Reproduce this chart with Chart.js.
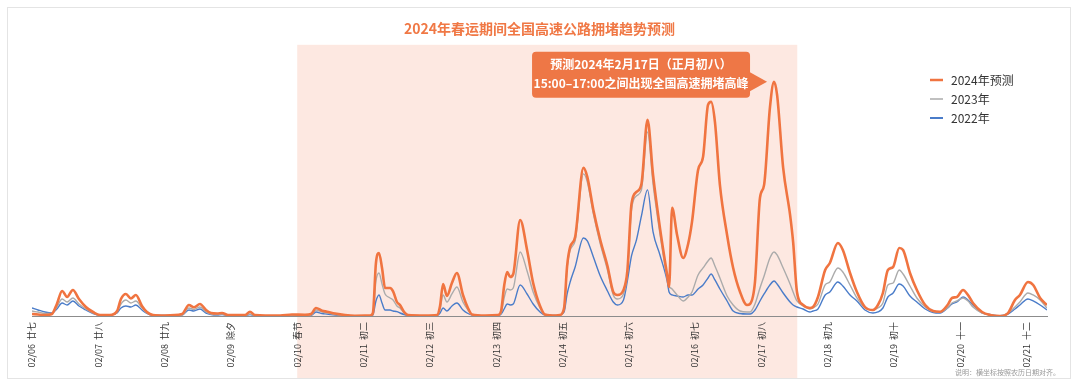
<!DOCTYPE html>
<html>
<head>
<meta charset="utf-8">
<script src="https://cdn.jsdelivr.net/npm/chart.js@4.4.1/dist/chart.umd.min.js"></script>
<style>
  html, body { margin: 0; padding: 0; background: #fff; }
  #wrap { width: 1080px; height: 388px; }
</style>
</head>
<body>
<div id="wrap"><canvas id="trend" width="1080" height="388"></canvas></div>
<script>
// x axis: hours counted from 02/06 00:00, one tick per day
const dayLabels = ["02/06", "02/07", "02/08", "02/09", "02/10", "02/11", "02/12", "02/13",
                   "02/14", "02/15", "02/16", "02/17", "02/18", "02/19", "02/20", "02/21"];
const lunarLabels = ["廿七", "廿八", "廿九", "除夕", "春节", "初二", "初三", "初四",
                     "初五", "初六", "初七", "初八", "初九", "初十", "十一", "十二"];
const festivalRange = [96, 277];   // shaded holiday period (hours)

const hours = [0, 2.2, 4.7, 7.2, 9, 10.9, 12.7, 14.8, 17, 19.5, 22.1, 24.6, 28.2, 30.8, 32.2, 34, 35.8, 37.6,
  39.8, 41.6, 43.8, 48.1, 54.3, 56.8, 58.6, 60.8, 63, 64.8, 67, 68.8, 71, 77.1, 78.9, 80.7, 89.8, 94.1,
  98.8, 101, 102.8, 105, 106.8, 109.7, 113.3, 116.9, 122.4, 123.4, 124.5, 125.6, 126.7, 127.8, 129.6,
  130.7, 132.1, 133.2, 134.7, 136.1, 142.3, 146.6, 147.7, 148.8, 150.2, 152, 153.8, 156, 157.8, 159.3,
  164, 168.7, 169.8, 170.9, 172, 173.1, 174.2, 176.7, 179.2, 181.4, 183.9, 185.7, 189.7, 191.1, 192.6,
  193.7, 194.8, 196.6, 199.6, 201, 203.2, 205.7, 208.3, 210.4, 211.9, 214.1, 215.5, 217, 218.8, 220.6,
  222.8, 224.8, 227.3, 229.9, 230.6, 231.7, 233.5, 235.7, 237.5, 238.9, 241.1, 242.9, 244.7, 245.8,
  247.2, 249, 251.6, 253.8, 256.3, 258.8, 259.9, 261.7, 263.5, 265, 267.1, 268.6, 269.7, 271.9, 274.4,
  275.5, 276.9, 279.1, 281.6, 282.7, 284.5, 287.1, 288.8, 291.7, 293.5, 296.1, 298.6, 301.5, 304.4,
  306.2, 308, 309.8, 311.7, 313.9, 315.3, 317.8, 320.3, 323.3, 326.2, 328.7, 331.4, 333, 334.8, 337,
  338.8, 340.6, 343.9, 346.8, 350.4, 353.3, 355.8, 357.6, 360.5, 362.4, 364.9, 367.4];

const y2024 = [2, 1.5, 1, 2, 12, 25, 19, 26, 17, 9, 4, 1, 1, 5, 17, 22, 17.5, 21,
  10, 4, 1, 0.5, 2, 11, 8.7, 12, 6, 3, 2.5, 3, 1, 1, 4.3, 1, 0.5, 1.5,
  1.2, 2, 8, 5.3, 4.3, 2.5, 1, 0.3, 0.5, 3, 53, 63, 48, 28, 28,
  24.7, 14, 11, 4, 1, 0.5, 1, 10, 32, 20, 33, 43, 21, 8, 1.5,
  0.5, 1, 5, 30, 44, 39, 42, 96, 66, 33, 10, 1.5, 0.5, 1, 8,
  50, 69, 79, 148, 139, 106, 76, 50, 24, 21, 26, 45, 112, 124, 132,
  196, 141, 88, 41, 29, 108, 81, 58, 72, 94, 146, 159, 211, 214,
  194, 131, 81, 48, 24, 11, 12, 34, 118, 131, 208, 234, 221, 148, 101,
  74, 24, 11, 8, 9, 19, 46, 53, 73, 66, 43, 24, 9, 6,
  11, 23, 46, 49, 68, 66, 43, 26, 11, 5, 4.3, 11, 18, 19, 26,
  21, 13, 4, 1, 0, 3, 16, 21, 34, 31, 18, 11];

const y2023 = [5, 4, 2.5, 2.5, 9, 17, 14, 18, 12, 7, 3, 1, 1, 4, 12, 16, 13, 15,
  8, 3, 1, 0.5, 1, 8, 6.5, 9, 4, 2, 1.5, 2, 0.5, 0.5, 2, 0.5, 0.2, 0.5,
  0.5, 1, 6, 4, 3, 1.5, 0.5, 0.2, 0.3, 2, 35, 43, 32, 22, 18,
  16, 10, 8, 3, 0.8, 0.3, 0.5, 7, 21, 14, 22, 29, 14, 6, 1,
  0.3, 0.5, 3, 18, 27, 26, 28, 64, 45, 24, 8, 1, 0.5, 1, 7,
  48, 66, 75, 142, 134, 102, 72, 46, 21, 17, 22, 42, 106, 120, 126,
  184, 132, 82, 38, 30, 27, 21, 15, 19, 24, 41, 48, 55, 58,
  50, 38, 20, 11, 5, 4, 4, 12, 28, 40, 58, 64, 61, 48, 32,
  24, 15, 10, 7, 8, 12, 31, 34, 48, 44, 31, 18, 8, 6,
  8, 13, 31, 33, 46, 42, 30, 18, 9, 4.5, 4, 8, 13, 15, 18,
  15, 9, 3, 1, 0.3, 3, 9, 14, 23, 21, 16, 8];

const y2022 = [8, 6, 4, 3, 7, 13, 11, 15, 10, 6, 2.5, 1, 1, 3, 8, 10, 9, 11,
  6, 2.5, 0.5, 0.5, 1, 6, 5, 7, 3, 1.5, 1, 1.5, 0.5, 0.3, 1.5, 0.3, 0.2, 0.5,
  0.3, 0.5, 4, 2.5, 2, 1, 0.3, 0.1, 0.2, 1, 15, 21, 13, 6, 6,
  5, 4.3, 3, 1.5, 0.5, 0.2, 0.5, 3, 8, 5, 10, 13, 6, 2.5, 1,
  0.3, 0.5, 2, 7, 12, 11, 12, 31, 22, 12, 4, 1, 0.5, 1, 4,
  22, 34, 49, 78, 75, 59, 40, 25, 14, 11, 16, 35, 60, 76, 100,
  126, 84, 61, 35, 24, 21, 20, 19, 21, 21, 27, 31, 38, 42,
  36, 27, 15, 5, 2.5, 2, 2, 6, 15, 22, 31, 35, 32, 23, 14,
  11, 9, 7, 4, 5, 7, 21, 24, 34, 30, 21, 15, 6, 3,
  4, 8, 19, 23, 32, 30, 20, 14, 7, 3.5, 3, 8, 12, 14, 19,
  16, 11, 3, 1.5, 0.3, 2, 7, 11, 17, 15, 11, 6];

const ORANGE = "#F07440";
const GRAY = "#ABABAB";
const BLUE = "#4A7CC9";
const FONT = "'Noto Sans CJK SC', 'Noto Sans', sans-serif";

function points(values) {
  return hours.map((h, i) => ({ x: h, y: values[i] }));
}

const panelPlugin = {
  id: "panel",
  beforeDraw(chart) {
    const { ctx, chartArea, scales } = chart;
    ctx.save();
    ctx.fillStyle = "#fff";
    ctx.fillRect(0, 0, chart.width, chart.height);
    // holiday band
    const x1 = scales.x.getPixelForValue(festivalRange[0]);
    const x2 = scales.x.getPixelForValue(festivalRange[1]);
    ctx.fillStyle = "#FDE8E1";
    ctx.fillRect(x1, chartArea.top, x2 - x1, 378 - chartArea.top);
    // panel border
    ctx.strokeStyle = "#E4E4E4";
    ctx.lineWidth = 1;
    ctx.strokeRect(7.5, 7.5, 1063, 371);
    ctx.restore();
  },
  afterDraw(chart) {
    const { ctx, scales } = chart;
    ctx.save();

    // callout at the 2024 peak
    let peak = 0;
    y2024.forEach((v, i) => { if (v > y2024[peak]) peak = i; });
    const px = scales.x.getPixelForValue(hours[peak]);
    const py = scales.y.getPixelForValue(y2024[peak]);
    const tipX = px - 7, tipY = py;
    const right = tipX - 17, left = right - 218;
    const top = tipY - 30, bottom = tipY + 16;
    ctx.fillStyle = "#EE7746";
    ctx.beginPath();
    ctx.roundRect(left, top, right - left, bottom - top, 4);
    ctx.fill();
    ctx.beginPath();
    ctx.moveTo(right - 1, tipY - 10);
    ctx.lineTo(tipX, tipY);
    ctx.lineTo(right - 1, tipY + 10);
    ctx.closePath();
    ctx.fill();
    ctx.fillStyle = "#fff";
    ctx.font = "bold 12px " + FONT;
    ctx.textAlign = "center";
    ctx.textBaseline = "middle";
    ctx.fillText("预测2024年2月17日（正月初八）", (left + right) / 2, tipY - 17);
    ctx.fillText("15:00–17:00之间出现全国高速拥堵高峰", (left + right) / 2, tipY + 2);

    // legend
    const items = [["2024年预测", ORANGE, 2.5], ["2023年", GRAY, 1.5], ["2022年", BLUE, 2]];
    ctx.font = "12px " + FONT;
    ctx.textAlign = "left";
    items.forEach((it, i) => {
      const y = 80 + i * 19;
      ctx.strokeStyle = it[1];
      ctx.lineWidth = it[2];
      ctx.beginPath();
      ctx.moveTo(930, y);
      ctx.lineTo(943, y);
      ctx.stroke();
      ctx.fillStyle = "#333";
      ctx.fillText(it[0], 951, y);
    });

    // note
    ctx.font = "7px " + FONT;
    ctx.fillStyle = "#999";
    ctx.textAlign = "right";
    ctx.fillText("说明：横坐标按照农历日期对齐。", 1060, 372);
    ctx.restore();
  }
};

new Chart(document.getElementById("trend"), {
  type: "line",
  data: {
    datasets: [
      { label: "2024年预测", data: points(y2024), borderColor: ORANGE, borderWidth: 2.6 },
      { label: "2023年", data: points(y2023), borderColor: GRAY, borderWidth: 1.4 },
      { label: "2022年", data: points(y2022), borderColor: BLUE, borderWidth: 1.4 }
    ]
  },
  options: {
    responsive: false,
    animation: false,
    events: [],
    layout: { padding: { left: 32, right: 33, top: 0, bottom: 0 } },
    elements: {
      point: { radius: 0 },
      line: { cubicInterpolationMode: "monotone", borderJoinStyle: "round" }
    },
    plugins: {
      legend: { display: false },
      tooltip: { enabled: false },
      title: {
        display: true,
        text: "2024年春运期间全国高速公路拥堵趋势预测",
        color: "#F07845",
        font: { family: FONT, size: 14, weight: "bold" },
        padding: { top: 20, bottom: 8 }
      }
    },
    scales: {
      x: {
        type: "linear",
        min: 0,
        max: 367.4,
        grid: { display: false, drawTicks: false },
        border: { display: true, color: "#8C8C8C", width: 1 },
        afterFit(scale) { scale.height = 72; },
        ticks: {
          stepSize: 24,
          autoSkip: false,
          maxRotation: 90,
          minRotation: 90,
          padding: 6,
          color: "#333",
          font: { family: FONT, size: 9 },
          callback(v) {
            const d = v / 24;
            return Number.isInteger(d) && d < dayLabels.length ? dayLabels[d] + "  " + lunarLabels[d] : "";
          }
        }
      },
      y: {
        display: false,
        min: 0,
        max: 271
      }
    }
  },
  plugins: [panelPlugin]
});
</script>
</body>
</html>
